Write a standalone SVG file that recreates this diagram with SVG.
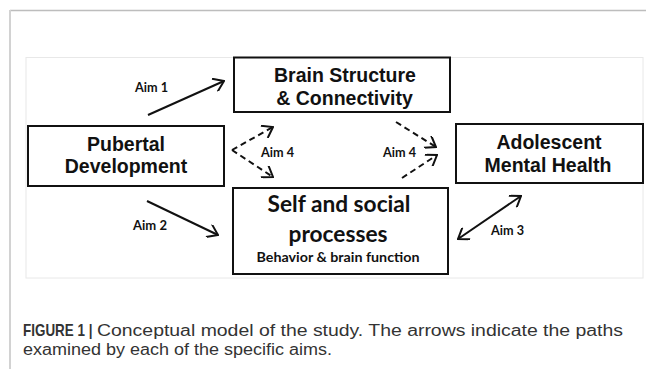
<svg xmlns="http://www.w3.org/2000/svg" width="646" height="369" viewBox="0 0 646 369">
<style>
.box{fill:#fff;stroke:#111;stroke-width:2}
.bt{font-family:"Liberation Sans",Arial,sans-serif;font-weight:bold;font-size:19.5px;fill:#111;text-anchor:middle}
.ct{font-family:Lato,"Open Sans",sans-serif;font-weight:bold;fill:#111;text-anchor:middle}
.aim{font-family:Lato,"Open Sans",sans-serif;font-weight:bold;font-size:13.5px;fill:#111}
.ln{stroke:#111;stroke-width:2;fill:none}
.dash{stroke:#111;stroke-width:2;fill:none;stroke-dasharray:6,4}
.cap{font-family:"Liberation Sans",Arial,sans-serif;font-size:16px;fill:#333}
</style>
<defs>
<marker id="ah" viewBox="0 0 14 14" markerWidth="14" markerHeight="14" refX="13" refY="7" markerUnits="userSpaceOnUse" orient="auto-start-reverse">
<path d="M3,0 L13,7 L3,14" fill="none" stroke="#111" stroke-width="2" stroke-dasharray="none"/>
</marker>
</defs>
<rect x="0" y="0" width="646" height="369" fill="#fff"/>
<g id="frame">
<line x1="10" y1="10.5" x2="646" y2="10.5" stroke="#bdbdbd" stroke-width="1.5"/>
<line x1="10" y1="10" x2="10" y2="369" stroke="#d2d2d2" stroke-width="2"/>
<rect x="26" y="57.5" width="617" height="220.5" fill="#fff" stroke="#e8e8e8" stroke-width="1"/>
</g>
<g id="connectors">
<line class="ln" x1="148" y1="115" x2="224" y2="81" marker-end="url(#ah)"/>
<line class="ln" x1="147" y1="201" x2="218" y2="235" marker-end="url(#ah)"/>
<line class="ln" x1="458" y1="239" x2="521" y2="196" marker-start="url(#ah)" marker-end="url(#ah)"/>
<line class="dash" x1="232" y1="150" x2="273" y2="127" marker-end="url(#ah)"/>
<line class="dash" x1="232" y1="150" x2="273" y2="177" marker-end="url(#ah)"/>
<line class="dash" x1="396" y1="122" x2="436" y2="147" marker-end="url(#ah)"/>
<line class="dash" x1="402" y1="178" x2="437" y2="155" marker-end="url(#ah)"/>
<text class="aim" x="135" y="92" textLength="33" lengthAdjust="spacingAndGlyphs">Aim 1</text>
<text class="aim" x="133" y="230" textLength="34" lengthAdjust="spacingAndGlyphs">Aim 2</text>
<text class="aim" x="491" y="235" textLength="33" lengthAdjust="spacingAndGlyphs">Aim 3</text>
<text class="aim" x="261" y="157" textLength="33" lengthAdjust="spacingAndGlyphs">Aim 4</text>
<text class="aim" x="383" y="157" textLength="33" lengthAdjust="spacingAndGlyphs">Aim 4</text>
</g>
<g id="pubertal">
<rect class="box" x="28" y="126" width="196" height="60"/>
<text class="bt" x="126" y="151">Pubertal</text>
<text class="bt" x="126" y="173">Development</text>
</g>
<g id="brain">
<rect class="box" x="234" y="57.5" width="216" height="54.5"/>
<text class="bt" x="345" y="82">Brain Structure</text>
<text class="bt" x="344.5" y="105">&amp; Connectivity</text>
</g>
<g id="adolescent">
<rect class="box" x="456" y="124" width="187" height="59"/>
<text class="bt" x="549" y="149">Adolescent</text>
<text class="bt" x="548" y="172">Mental Health</text>
</g>
<g id="self">
<rect class="box" x="233" y="188" width="215" height="86"/>
<text class="ct" x="339" y="212" font-size="22" textLength="143" lengthAdjust="spacingAndGlyphs">Self and social</text>
<text class="ct" x="338" y="242" font-size="22" textLength="99" lengthAdjust="spacingAndGlyphs">processes</text>
<text class="ct" x="338" y="262" font-size="12.5" textLength="163" lengthAdjust="spacingAndGlyphs">Behavior &amp; brain function</text>
</g>
<g id="caption">
<text class="cap" transform="translate(23,336) scale(0.84,1)" font-weight="bold">FIGURE 1 |</text>
<text class="cap" x="97" y="336" textLength="526" lengthAdjust="spacingAndGlyphs">Conceptual model of the study. The arrows indicate the paths</text>
<text class="cap" x="23" y="355" textLength="309" lengthAdjust="spacingAndGlyphs">examined by each of the specific aims.</text>
</g>
</svg>
